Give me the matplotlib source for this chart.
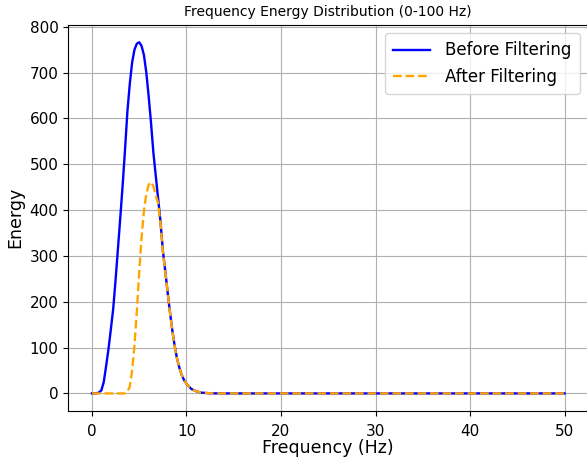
import matplotlib
matplotlib.use("Agg")
import matplotlib.pyplot as plt

# Frequency (Hz) and energy values
freq = [0.0, 0.25, 0.5, 0.75, 1.0, 1.25, 1.5, 1.75, 2.0, 2.25, 2.5, 2.75,
        3.0, 3.25, 3.5, 3.75, 4.0, 4.25, 4.5, 4.75, 5.0, 5.25, 5.5, 5.75,
        6.0, 6.25, 6.5, 6.75, 7.0, 7.25, 7.5, 7.75, 8.0, 8.25, 8.5, 8.75,
        9.0, 9.25, 9.5, 9.75, 10.0, 10.5, 11.0, 11.5, 12.0, 12.5, 13.0,
        14.0, 50.0]

before = [0, 0, 0.5, 2, 7, 25, 60, 97, 140, 185, 248, 316,
          384, 455, 532, 615, 675, 722, 750, 763, 766, 758, 738, 700,
          648, 590, 525, 475, 425, 375, 312, 268, 222, 178, 138, 104,
          76, 56, 40, 29, 21, 10, 5, 2, 1, 0.4, 0.1,
          0, 0]

after = [0, 0, 0, 0, 0, 0, 0, 0, 0, 0, 0, 0,
         0, 0, 0, 3, 15, 50, 105, 180, 265, 340, 398, 435,
         455, 461, 452, 432, 415, 371, 310, 266, 221, 177, 137, 103,
         76, 56, 40, 29, 21, 10, 5, 2, 1, 0.4, 0.1,
         0, 0]

fig = plt.figure(figsize=(5.87, 4.61), dpi=100)
ax = fig.add_axes([0.1164, 0.1085, 0.8856, 0.8379])

ax.plot(freq, before, color='blue', linewidth=1.7, label='Before Filtering')
ax.plot(freq, after, color='orange', linestyle='--', linewidth=1.7, label='After Filtering')

ax.set_title('Frequency Energy Distribution (0-100 Hz)', fontsize=10)
ax.set_xlabel('Frequency (Hz)', fontsize=12.5, labelpad=0)
ax.set_ylabel('Energy', fontsize=12.5)
ax.tick_params(labelsize=11)
ax.tick_params(axis='x', pad=6)
ax.set_yticks(range(0, 801, 100))
ax.grid(True)
ax.legend(fontsize=12, loc='upper right', handlelength=2.2,
          handletextpad=0.9, borderpad=0.5, borderaxespad=0.5)

fig.savefig('out.png', dpi=100)
